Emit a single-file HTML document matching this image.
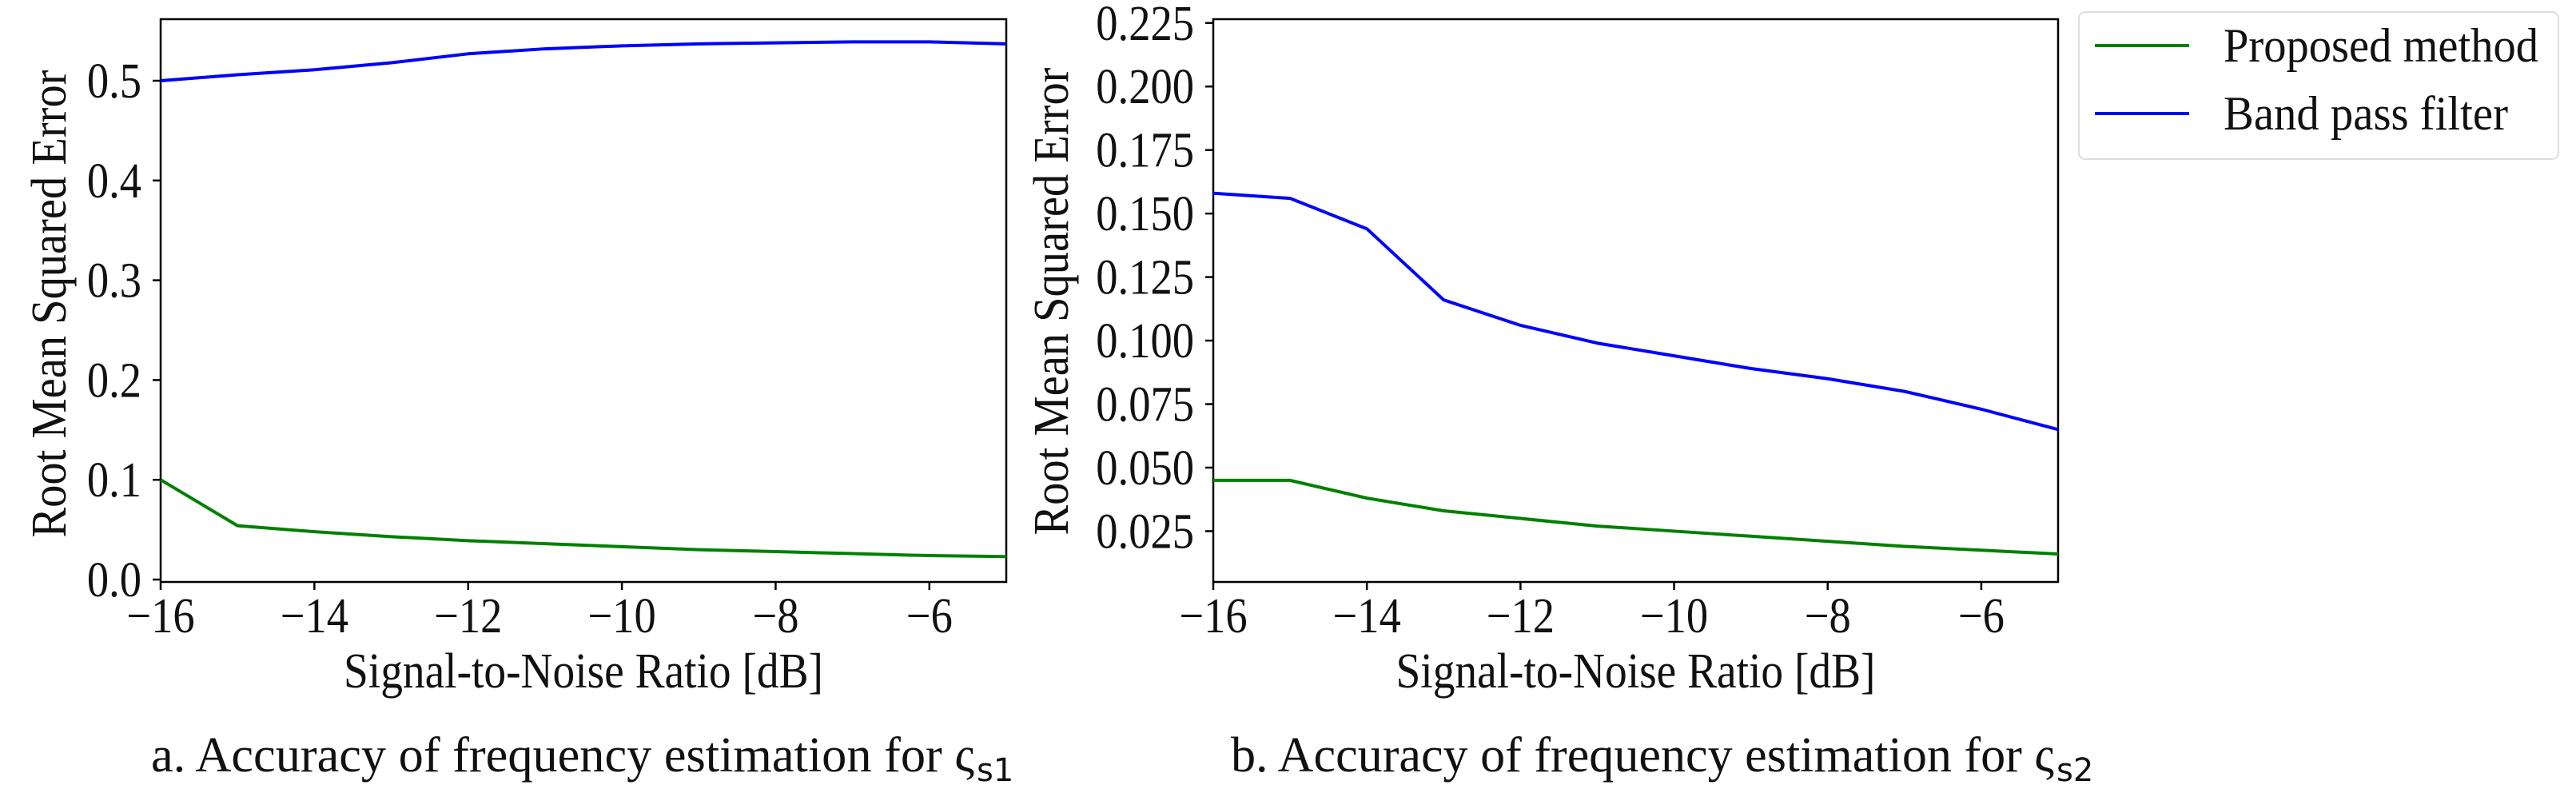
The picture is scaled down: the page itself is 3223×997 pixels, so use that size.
<!DOCTYPE html>
<html><head><meta charset="utf-8"><style>
html,body{margin:0;padding:0;background:#fff}
svg{display:block}
text{font-family:"Liberation Serif",serif;fill:#111}
</style></head><body>
<svg id="fig" width="3223" height="997" viewBox="0 0 3223 997" xmlns="http://www.w3.org/2000/svg">
<g id="chartA"></g>
<g id="chartB"></g>
<g>
<rect x="2601" y="15" width="600" height="184" rx="8" fill="#fff" stroke="#ddd" stroke-width="2"/>
<line x1="2621" y1="57" x2="2739" y2="57" stroke="#008000" stroke-width="4"/>
<text x="2782" y="77" font-size="60" textLength="394" lengthAdjust="spacingAndGlyphs">Proposed method</text>
<line x1="2621" y1="142" x2="2739" y2="142" stroke="#0000ff" stroke-width="4"/>
<text x="2782" y="162" font-size="60" textLength="356" lengthAdjust="spacingAndGlyphs">Band pass filter</text>
</g>
<text x="189" y="965" font-size="62" textLength="1030" lengthAdjust="spacingAndGlyphs">a. Accuracy of frequency estimation for ς</text>
<text x="1222" y="977" font-size="40" style="font-family:'DejaVu Sans',sans-serif">s1</text>
<text x="1540" y="965" font-size="62" textLength="1030" lengthAdjust="spacingAndGlyphs">b. Accuracy of frequency estimation for ς</text>
<text x="2573" y="977" font-size="40" style="font-family:'DejaVu Sans',sans-serif">s2</text>
</svg>
<script>
const snr = [-16,-15,-14,-13,-12,-11,-10,-9,-8,-7,-6,-5];
const aProposed = [0.100,0.054,0.048,0.043,0.039,0.036,0.033,0.030,0.028,0.026,0.024,0.023];
const aBandpass = [0.500,0.506,0.511,0.518,0.527,0.532,0.535,0.537,0.538,0.539,0.539,0.537];
const bProposed = [0.045,0.045,0.038,0.033,0.030,0.027,0.025,0.023,0.021,0.019,0.0175,0.016];
const bBandpass = [0.158,0.156,0.144,0.116,0.106,0.099,0.094,0.089,0.085,0.080,0.073,0.065];
const xTicks = [-16,-14,-12,-10,-8,-6];
const aYTicks = [0.0,0.1,0.2,0.3,0.4,0.5];
const aYLabels = ["0.0","0.1","0.2","0.3","0.4","0.5"];
const bYTicks = [0.025,0.05,0.075,0.1,0.125,0.15,0.175,0.2,0.225];
const bYLabels = ["0.025","0.050","0.075","0.100","0.125","0.150","0.175","0.200","0.225"];
const NS="http://www.w3.org/2000/svg";
const HS=0.88;
function mk(tag,attrs,parent){const e=document.createElementNS(NS,tag);for(const k in attrs)e.setAttribute(k,attrs[k]);parent.appendChild(e);return e;}
function drawChart(g,cfg){
  const L=cfg.left,R=cfg.right,T=24,B=728;
  const sx=v=>L+(v-(-16))*(R-L)/11;
  const sy=v=>B-(v-cfg.ymin)*(B-T)/(cfg.ymax-cfg.ymin);
  const ax=mk('rect',{x:L,y:T,width:R-L,height:B-T,fill:'none',stroke:'#000','stroke-width':2.5},g);
  
  
  xTicks.forEach(v=>{
    const t=mk('line',{x1:sx(v),y1:B,x2:sx(v),y2:B+10,stroke:'#000','stroke-width':2.5},g);
    
    
    const tx=mk('text',{x:0,y:0,'font-size':62,'text-anchor':'middle',transform:`translate(${sx(v)},791) scale(${HS},1)`},g);
    tx.textContent=(v<0?'\u2212':'')+Math.abs(v);
    
    
  });
  cfg.yt.forEach((v,i)=>{
    const t=mk('line',{x1:L-10,y1:sy(v),x2:L,y2:sy(v),stroke:'#000','stroke-width':2.5},g);
    
    
    const tx=mk('text',{x:0,y:0,'font-size':62,'text-anchor':'end',transform:`translate(${L-24},${sy(v)+21}) scale(${HS},1)`},g);
    tx.textContent=cfg.yl[i];
    
    
  });
  const xl=mk('text',{x:(L+R)/2,y:860,'font-size':62,'text-anchor':'middle',textLength:600,lengthAdjust:'spacingAndGlyphs'},g);
  xl.textContent='Signal-to-Noise Ratio [dB]';
  
  
  const yl=mk('text',{x:0,y:0,'font-size':62,'text-anchor':'middle',textLength:585,lengthAdjust:'spacingAndGlyphs',transform:`translate(${cfg.ylx},${cfg.ylc}) rotate(-90)`},g);
  yl.textContent='Root Mean Squared Error';
  
  
  [[cfg.green,'#008000','series-proposed'],[cfg.blue,'#0000ff','series-bandpass']].forEach(([d,c,n])=>{
    const p=mk('polyline',{points:d.map((v,i)=>sx(snr[i])+','+sy(v)).join(' '),fill:'none',stroke:c,'stroke-width':4,'stroke-linejoin':'round'},g);
    
    
  });
}
drawChart(document.getElementById('chartA'),{left:201,right:1259,ymin:-0.0024,ymax:0.5617,yt:aYTicks,yl:aYLabels,green:aProposed,blue:aBandpass,ylx:82,ylc:380});
drawChart(document.getElementById('chartB'),{left:1518,right:2575,ymin:0.005,ymax:0.2265,yt:bYTicks,yl:bYLabels,green:bProposed,blue:bBandpass,ylx:1336,ylc:377});
</script>
</body></html>
